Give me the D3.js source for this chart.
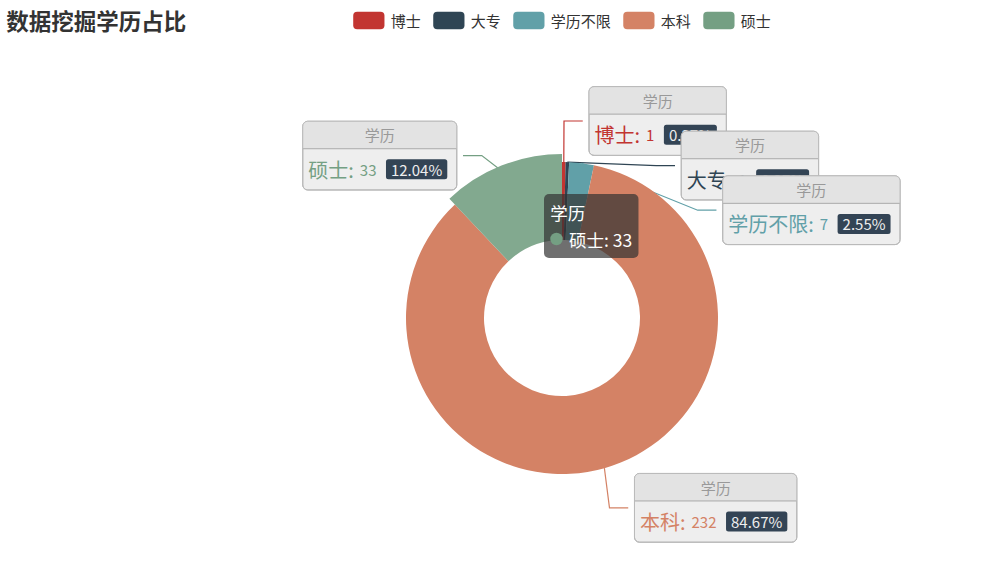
<!DOCTYPE html>
<html>
<head>
<meta charset="utf-8">
<script src="https://cdn.jsdelivr.net/npm/d3@7"></script>
<style>
  html, body { margin: 0; padding: 0; background: #fff; overflow: hidden; }
  svg { display: block; font-family: "Microsoft YaHei", "Noto Sans CJK SC", sans-serif; }
</style>
</head>
<body>
<svg id="chart" width="996" height="561"></svg>
<script>
// chart data
var titleText = '数据挖掘学历占比';
var seriesName = '学历';
var categories = ['博士', '大专', '学历不限', '本科', '硕士'];
var counts = [1, 1, 7, 232, 33];
var palette = ['#c23531', '#2f4554', '#61a0a8', '#d48265', '#749f83'];
var hoveredName = '硕士';

// layout
var width = 996, height = 561;
var cx = 562, cy = 318;
var outerR = 156, innerR = 78, hoverOffset = 8;
var lineLen = 18.75, lineLen2 = 18.75, labelDistance = 6.25, labelSlot = 44.6;
var viewHeight = 625;

var svg = d3.select('#chart');

// percentages, rounded so they add up to 100 (largest remainder)
function percents(values, precision) {
  var sum = d3.sum(values), digits = Math.pow(10, precision);
  var target = digits * 100;
  var votes = values.map(function(v) { return v / sum * target; });
  var seats = votes.map(Math.floor);
  var rem = votes.map(function(v, i) { return v - seats[i]; });
  var current = d3.sum(seats);
  while (current < target) {
    var idx = d3.maxIndex(rem);
    seats[idx]++; rem[idx] = 0; current++;
  }
  return seats.map(function(s) { return s / digits; });
}
var pct = percents(counts, 2);

var data = categories.map(function(c, i) {
  return { name: c, value: counts[i], color: palette[i], percent: pct[i] };
});

var color = d3.scaleOrdinal().domain(categories).range(palette);

// title
svg.append('text')
  .attr('x', 6.25).attr('y', 29.5)
  .attr('font-size', 22.5).attr('font-weight', 'bold').attr('fill', '#333')
  .text(titleText);

// legend, centred on the chart
var legend = svg.append('g');
var lx = 0;
categories.forEach(function(c) {
  var g = legend.append('g').attr('transform', 'translate(' + lx + ',0)');
  g.append('rect').attr('x', 0).attr('y', 11.75).attr('width', 31.25).attr('height', 17.5)
    .attr('rx', 4).attr('fill', color(c));
  var t = g.append('text').attr('x', 37.5).attr('y', 20.5).attr('dominant-baseline', 'central')
    .attr('font-size', 15).attr('fill', '#333').text(c);
  lx += 37.5 + t.node().getComputedTextLength() + 12.5;
});
var legendW = lx - 12.5;
legend.attr('transform', 'translate(' + (cx - legendW / 2) + ',0)');

// pie
var pie = d3.pie().sort(null).value(function(d) { return d.value; });
var arcs = pie(data);
var arc = d3.arc()
  .innerRadius(innerR)
  .outerRadius(function(d) { return d.data.name === hoveredName ? outerR + hoverOffset : outerR; });

// label layout (outside labels with two-segment lines, pushed apart vertically)
var layouts = arcs.map(function(a) {
  var mid = (a.startAngle + a.endAngle) / 2;
  var dx = Math.sin(mid), dy = -Math.cos(mid);
  var x1 = cx + outerR * dx, y1 = cy + outerR * dy;
  var x2 = x1 + dx * lineLen, y2 = y1 + dy * lineLen;
  var dir = dx < 0 ? -1 : 1;
  var x3 = x2 + dir * lineLen2;
  return { d: a.data, dir: dir, x: x3 + dir * labelDistance, y: y2, height: labelSlot,
           points: [[x1, y1], [x2, y2], [x3, y2]] };
});

function adjustSide(list, dir) {
  list.sort(function(a, b) { return a.y - b.y; });
  function shiftDown(start, end, delta) {
    for (var j = start; j < end; j++) {
      if (list[j].y + delta > viewHeight) break;
      list[j].y += delta;
      if (j > start && j + 1 < end && list[j + 1].y > list[j].y + list[j].height) {
        shiftUp(j, delta / 2);
        return;
      }
    }
    shiftUp(end - 1, delta / 2);
  }
  function shiftUp(end, delta) {
    for (var j = end; j >= 0; j--) {
      if (list[j].y - delta < 0) break;
      list[j].y -= delta;
      if (j > 0 && list[j].y > list[j - 1].y + list[j - 1].height) break;
    }
  }
  function changeX(items, isDown) {
    var last = isDown ? Infinity : 0;
    var L = outerR + lineLen + lineLen2;
    items.forEach(function(it) {
      var dy = Math.abs(it.y - cy);
      var dx = dy < outerR + lineLen ? Math.sqrt(L * L - dy * dy) : Math.abs(it.x - cx);
      if (isDown && dx >= last) dx = last - 10;
      if (!isDown && dx <= last) dx = last + 10;
      it.x = cx + dx * dir;
      last = dx;
    });
  }
  var lastY = 0;
  for (var i = 0; i < list.length; i++) {
    var delta = list[i].y - lastY;
    if (delta < 0) shiftDown(i, list.length, -delta);
    lastY = list[i].y + list[i].height;
  }
  if (viewHeight - lastY < 0) shiftUp(list.length - 1, lastY - viewHeight);
  changeX(list.filter(function(l) { return l.y < cy; }), false);
  changeX(list.filter(function(l) { return l.y >= cy; }), true);
}
var rightList = layouts.filter(function(l) { return l.dir > 0; });
var leftList = layouts.filter(function(l) { return l.dir < 0; });
if (rightList.length) adjustSide(rightList, 1);
if (leftList.length) adjustSide(leftList, -1);

layouts.forEach(function(l) {
  var dist = l.points[1][0] - l.points[2][0];
  l.points[2][0] = l.x - l.dir * labelDistance;
  l.points[1][0] = l.points[2][0] + dist;
  l.points[1][1] = l.points[2][1] = l.y;
});

// label lines under the sectors
svg.append('g').selectAll('polyline')
  .data(layouts)
  .enter()
  .append('polyline')
  .attr('points', function(l) { return l.points.map(function(p) { return p.join(','); }).join(' '); })
  .attr('fill', 'none')
  .attr('stroke', function(l) { return l.d.color; })
  .attr('stroke-width', 1.2);

svg.append('g').attr('transform', 'translate(' + cx + ',' + cy + ')')
  .selectAll('path')
  .data(arcs)
  .enter()
  .append('path')
  .attr('d', arc)
  .attr('fill', function(d) {
    return d.data.name === hoveredName ? d3.interpolateRgb(d.data.color, '#fff')(0.1) : d.data.color;
  });

// rich labels
var labelLayer = svg.append('g');
var boxH = 68.75, headH = 27.5;
layouts.forEach(function(l) {
  var g = labelLayer.append('g');
  var bg = g.append('rect');
  var head = g.append('path');
  var hr = g.append('line');
  var perBg = g.append('rect');
  var top = l.y - boxH / 2;
  var bodyY = top + headH + (boxH - headH) / 2;

  var nameT = g.append('text').attr('font-size', 20).attr('fill', l.d.color)
    .attr('dominant-baseline', 'central').attr('y', bodyY).text(l.d.name + ':');
  var valT = g.append('text').attr('font-size', 15).attr('fill', l.d.color)
    .attr('dominant-baseline', 'central').attr('y', bodyY).text(l.d.value);
  var perT = g.append('text').attr('font-size', 15).attr('fill', '#eee')
    .attr('dominant-baseline', 'central').attr('y', bodyY).text(l.d.percent.toFixed(2) + '%');
  var headT = g.append('text').attr('font-size', 15).attr('fill', '#999')
    .attr('dominant-baseline', 'central').attr('text-anchor', 'middle')
    .attr('y', top + headH / 2).text(seriesName);

  var nameW = nameT.node().getComputedTextLength();
  var valW = valT.node().getComputedTextLength();
  var perW = perT.node().getComputedTextLength();
  var w = 5.5 + nameW + 6 + valW + 9.5 + perW + 10 + 9.5;
  var left = l.dir > 0 ? l.x : l.x - w;

  nameT.attr('x', left + 5.5);
  valT.attr('x', left + 5.5 + nameW + 6);
  var perX = left + 5.5 + nameW + 6 + valW + 9.5;
  perT.attr('x', perX + 5);
  perBg.attr('x', perX).attr('y', bodyY - 10).attr('width', perW + 10).attr('height', 20)
    .attr('rx', 2.5).attr('fill', '#334455');
  headT.attr('x', left + w / 2);

  bg.attr('x', left).attr('y', top).attr('width', w).attr('height', boxH)
    .attr('rx', 5).attr('fill', '#eee').attr('stroke', '#aaa').attr('stroke-width', 1);
  var r = 5;
  head.attr('d', 'M' + left + ',' + (top + headH) + 'V' + (top + r) +
      'Q' + left + ',' + top + ' ' + (left + r) + ',' + top +
      'H' + (left + w - r) + 'Q' + (left + w) + ',' + top + ' ' + (left + w) + ',' + (top + r) +
      'V' + (top + headH) + 'Z')
    .attr('fill', '#e3e3e3');
  hr.attr('x1', left).attr('x2', left + w).attr('y1', top + headH).attr('y2', top + headH)
    .attr('stroke', '#aaa').attr('stroke-width', 1);
  // redraw the border over the header band
  g.append('rect').attr('x', left).attr('y', top).attr('width', w).attr('height', boxH)
    .attr('rx', 5).attr('fill', 'none').attr('stroke', '#bbb').attr('stroke-width', 1);
});

// tooltip for the hovered slice
var hov = data.filter(function(d) { return d.name === hoveredName; })[0];
if (hov) {
  var tip = svg.append('g').attr('transform', 'translate(' + (cx - 18) + ',' + (cy - 124) + ')');
  var tipBg = tip.append('rect');
  var t1 = tip.append('text').attr('x', 6.25).attr('y', 18.5).attr('dominant-baseline', 'central')
    .attr('font-size', 17.5).attr('fill', '#fff').text(seriesName);
  tip.append('circle').attr('cx', 12.5).attr('cy', 45).attr('r', 6.25).attr('fill', hov.color);
  var t2 = tip.append('text').attr('x', 25).attr('y', 45).attr('dominant-baseline', 'central')
    .attr('font-size', 17.5).attr('fill', '#fff').text(hov.name + ': ' + hov.value);
  var tw = Math.max(6.25 + t1.node().getComputedTextLength(), 25 + t2.node().getComputedTextLength()) + 6.25;
  tipBg.attr('width', tw).attr('height', 64).attr('rx', 5).attr('fill', 'rgba(50,50,50,0.7)');
}
</script>
</body>
</html>
